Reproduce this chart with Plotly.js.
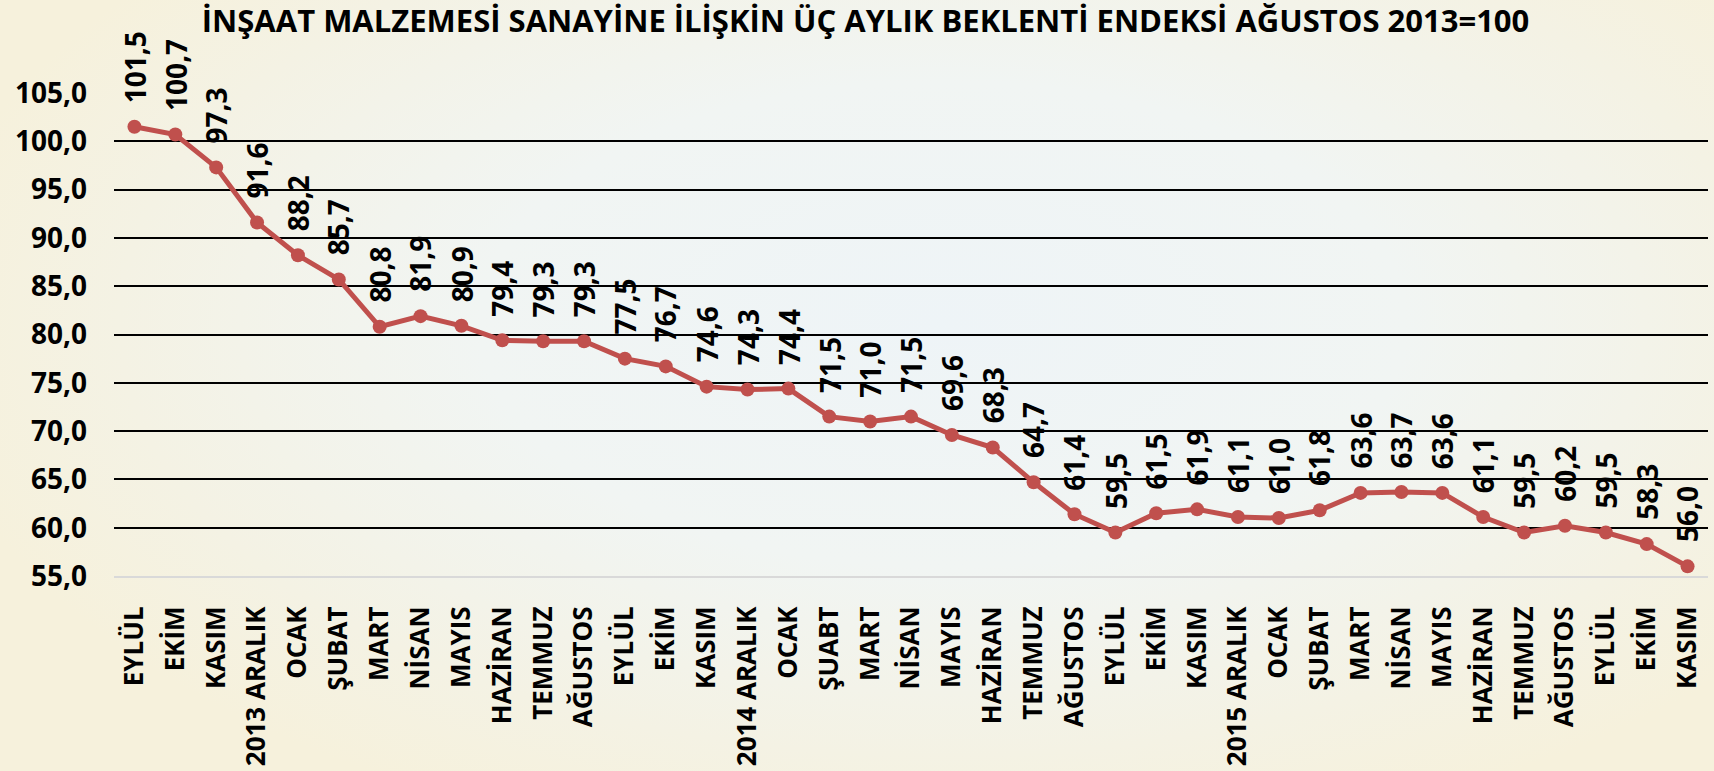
<!DOCTYPE html>
<html>
<head>
<meta charset="utf-8">
<script src="https://cdn.plot.ly/plotly-3.0.1.min.js"></script>
<style>
  html, body { margin: 0; padding: 0; }
  #chart {
    width: 1714px; height: 771px;
    background: radial-gradient(ellipse 60% 70% at 55% 42%, #eef4f7 0%, #f1f5f3 45%, #f4f2e4 80%, #f6f1dc 100%);
  }
</style>
</head>
<body>
<div id="chart"></div>
<script>
const categories = [
  "EYLÜL","EKİM","KASIM","2013 ARALIK","OCAK","ŞUBAT","MART","NİSAN","MAYIS","HAZİRAN","TEMMUZ","AĞUSTOS",
  "EYLÜL","EKİM","KASIM","2014 ARALIK","OCAK","ŞUABT","MART","NİSAN","MAYIS","HAZİRAN","TEMMUZ","AĞUSTOS",
  "EYLÜL","EKİM","KASIM","2015 ARALIK","OCAK","ŞUBAT","MART","NİSAN","MAYIS","HAZİRAN","TEMMUZ","AĞUSTOS",
  "EYLÜL","EKİM","KASIM"
];
const values = [
  101.5,100.7,97.3,91.6,88.2,85.7,80.8,81.9,80.9,79.4,79.3,79.3,
  77.5,76.7,74.6,74.3,74.4,71.5,71.0,71.5,69.6,68.3,64.7,61.4,
  59.5,61.5,61.9,61.1,61.0,61.8,63.6,63.7,63.6,61.1,59.5,60.2,
  59.5,58.3,56.0
];
const yTicks = [55,60,65,70,75,80,85,90,95,100,105];
const titleText = "İNŞAAT MALZEMESİ SANAYİNE İLİŞKİN ÜÇ AYLIK BEKLENTİ ENDEKSİ AĞUSTOS 2013=100";

const idx = categories.map((_, i) => i);
const fmt = v => v.toFixed(1).replace(".", ",");

const labelSize = 28;
const labelGap = 24;       // px between point centre and start of rotated label
const digitEm = 0.572, commaEm = 0.28;

const trace = {
  type: "scatter",
  mode: "lines+markers",
  x: idx,
  y: values,
  line: { color: "#C0504D", width: 5 },
  marker: { color: "#C0504D", size: 14 },
  hoverinfo: "skip"
};

const annotations = values.map((v, i) => {
  const t = fmt(v);
  const len = labelSize * ((t.length - 1) * digitEm + commaEm);
  return {
    x: i, y: v, xref: "x", yref: "y",
    text: t,
    showarrow: true,
    arrowcolor: "rgba(0,0,0,0)",
    arrowwidth: 0.1,
    arrowhead: 0,
    ax: 0,
    ay: -(labelGap + len / 2),
    textangle: -90,
    borderpad: 0,
    font: { family: "Open Sans", size: labelSize, color: "#000", weight: 700 }
  };
});

const layout = {
  width: 1714, height: 771,
  paper_bgcolor: "rgba(0,0,0,0)",
  plot_bgcolor: "rgba(0,0,0,0)",
  margin: { l: 114, r: 6, t: 93, b: 195 },
  showlegend: false,
  title: {
    text: titleText,
    font: { family: "Open Sans", size: 31, color: "#000", weight: 700 },
    x: 0.505, xref: "container", xanchor: "center",
    y: 0.973, yref: "container", yanchor: "middle"
  },
  xaxis: {
    range: [-0.5, categories.length - 0.5],
    tickmode: "array",
    tickvals: idx,
    ticktext: categories,
    tickangle: -90,
    ticks: "",
    ticklabelstandoff: 18,
    showgrid: false,
    zeroline: false,
    showline: true,
    linecolor: "#d9d9d9",
    linewidth: 2,
    tickfont: { family: "Open Sans", size: 26, color: "#000", weight: 700 }
  },
  yaxis: {
    range: [55, 105],
    tickmode: "array",
    tickvals: yTicks,
    ticktext: yTicks.map(fmt),
    ticks: "",
    ticklabelstandoff: 26,
    showgrid: true,
    gridcolor: "#000",
    gridwidth: 2,
    zeroline: false,
    showline: false,
    tickfont: { family: "Open Sans", size: 28, color: "#000", weight: 700 }
  },
  annotations: annotations
};

Plotly.newPlot("chart", [trace], layout, { displayModeBar: false, staticPlot: true });
</script>
</body>
</html>
